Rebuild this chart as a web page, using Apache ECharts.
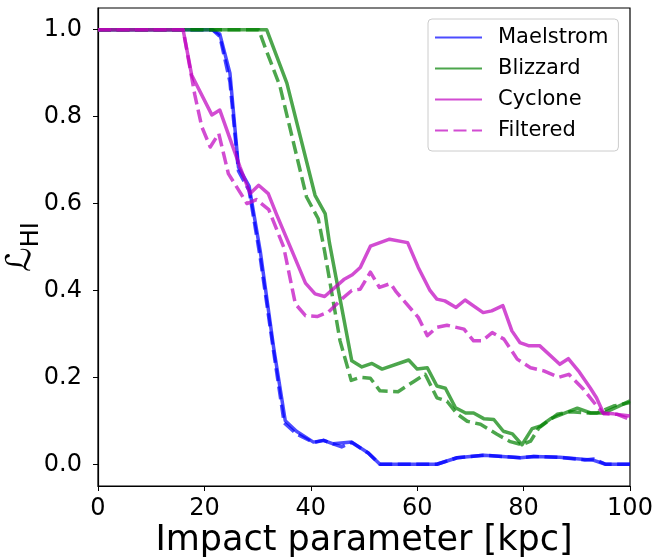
<!DOCTYPE html>
<html>
<head>
<meta charset="utf-8">
<script src="https://cdn.jsdelivr.net/npm/echarts@6/dist/echarts.min.js"></script>
<style>
  html, body { margin: 0; padding: 0; background: #fff; }
  #chart { width: 658px; height: 558px; }
</style>
</head>
<body>
<div id="chart"></div>
<script>
// Covering fraction profiles versus impact parameter (kpc)
const maelstromX = [0, 21.5, 22.9, 24.8, 26.4, 28.4, 30.5, 33.0, 35.2, 37.3, 40.5, 42.4, 44.2, 47.7, 50.8, 53.0, 63.7, 67.5, 72.5, 79.4, 81.9, 86.8, 93.2, 95.4, 100];
const maelstromY = [1.0, 1.0, 0.99, 0.90, 0.684, 0.64, 0.49, 0.27, 0.10, 0.076, 0.051, 0.055, 0.047, 0.051, 0.026, 0.0, 0.0, 0.015, 0.021, 0.015, 0.018, 0.016, 0.009, 0.0, 0.0];

const maelstromFiltX = [0, 21.5, 22.9, 24.8, 26.4, 28.4, 30.5, 33.0, 35.0, 37.3, 40.5, 42.4, 44.2, 45.8, 47.7, 50.8, 53.0, 63.7, 67.5, 72.5, 79.4, 81.9, 86.8, 91.5, 93.2, 95.4, 100];
const maelstromFiltY = [1.0, 1.0, 0.985, 0.88, 0.675, 0.63, 0.475, 0.26, 0.095, 0.07, 0.05, 0.055, 0.047, 0.04, 0.05, 0.026, 0.0, 0.0, 0.015, 0.021, 0.015, 0.018, 0.016, 0.01, 0.012, 0.0, 0.0];

const blizzardX = [0, 31.7, 35.5, 40.8, 42.7, 43.5, 47.7, 49.6, 51.5, 53.4, 58.4, 60.0, 61.9, 63.7, 65.3, 67.2, 69.1, 70.6, 72.5, 74.4, 76.2, 77.9, 79.7, 81.6, 83.2, 85.1, 88.2, 90.1, 92.6, 95.1, 97.6, 100];
const blizzardY = [1.0, 1.0, 0.877, 0.619, 0.577, 0.51, 0.238, 0.224, 0.232, 0.219, 0.24, 0.219, 0.222, 0.18, 0.175, 0.13, 0.118, 0.118, 0.105, 0.103, 0.076, 0.07, 0.045, 0.082, 0.088, 0.105, 0.12, 0.129, 0.118, 0.118, 0.132, 0.146];

const blizzardFiltX = [0, 30.2, 31.4, 34.2, 39.2, 41.4, 42.6, 45.5, 47.6, 49.3, 51.2, 53.0, 56.4, 59.3, 61.5, 63.7, 65.6, 67.5, 69.4, 71.9, 75.0, 77.5, 79.7, 81.3, 82.9, 86.3, 88.8, 92.0, 93.8, 96.9, 100];
const blizzardFiltY = [1.0, 1.0, 0.96, 0.87, 0.615, 0.565, 0.49, 0.284, 0.193, 0.2, 0.198, 0.169, 0.167, 0.19, 0.207, 0.153, 0.145, 0.116, 0.099, 0.092, 0.069, 0.052, 0.045, 0.053, 0.084, 0.115, 0.121, 0.118, 0.118, 0.134, 0.142];

const cycloneX = [0, 16.0, 17.6, 21.4, 22.9, 26.7, 28.6, 30.2, 32.0, 33.6, 36.5, 39.0, 40.8, 42.6, 46.2, 47.8, 49.3, 51.2, 54.8, 58.2, 60.2, 62.4, 63.7, 65.2, 67.3, 69.0, 72.4, 74.0, 76.1, 77.8, 79.3, 80.9, 83.0, 86.8, 88.4, 90.3, 92.5, 93.7, 95.0, 96.9, 100];
const cycloneY = [1.0, 1.0, 0.896, 0.804, 0.815, 0.684, 0.623, 0.642, 0.623, 0.574, 0.49, 0.417, 0.392, 0.386, 0.425, 0.436, 0.453, 0.502, 0.518, 0.51, 0.453, 0.40, 0.38, 0.376, 0.361, 0.378, 0.349, 0.353, 0.365, 0.307, 0.28, 0.273, 0.273, 0.23, 0.243, 0.215, 0.176, 0.153, 0.118, 0.116, 0.111];

const cycloneFiltX = [0, 16.0, 18.2, 19.5, 21.1, 22.7, 24.5, 28.0, 29.8, 32.1, 34.9, 37.1, 39.0, 41.2, 43.3, 45.8, 47.7, 49.3, 51.2, 52.9, 55.0, 56.1, 60.2, 61.9, 63.7, 65.6, 68.8, 70.6, 72.2, 74.1, 76.3, 78.8, 81.3, 83.8, 86.6, 88.5, 91.3, 93.5, 95.1, 97.6, 100];
const cycloneFiltY = [1.0, 1.0, 0.85, 0.777, 0.73, 0.761, 0.669, 0.6, 0.609, 0.586, 0.5, 0.369, 0.342, 0.34, 0.35, 0.38, 0.4, 0.403, 0.442, 0.407, 0.416, 0.396, 0.338, 0.296, 0.315, 0.32, 0.311, 0.284, 0.284, 0.303, 0.288, 0.242, 0.222, 0.215, 0.2, 0.207, 0.172, 0.138, 0.116, 0.115, 0.103];

const xTicks = [0, 20, 40, 60, 80, 100];
const yTicks = [0.0, 0.2, 0.4, 0.6, 0.8, 1.0];

const BLUE = '#0000ff', GREEN = '#008000', MAGENTA = '#bf00bf';
const FONT = 'DejaVu Sans';

function pairs(xs, ys) { return xs.map((x, i) => [x, ys[i]]); }

function line(name, xs, ys, color, dashed) {
  return {
    name: name,
    type: 'line',
    data: pairs(xs, ys),
    symbol: 'none',
    showSymbol: false,
    smooth: false,
    animation: false,
    silent: true,
    lineStyle: {
      color: color,
      width: 3.5,
      opacity: 0.7,
      type: dashed ? [13, 5.5] : 'solid',
      cap: 'butt',
      join: 'round'
    },
    // markers are hidden; this also keeps the legend glyph a plain line
    itemStyle: { color: color, opacity: 0 }
  };
}

const chart = echarts.init(document.getElementById('chart'), null, { renderer: 'canvas' });

chart.setOption({
  backgroundColor: '#fff',
  animation: false,
  textStyle: { fontFamily: FONT },
  grid: {
    left: 98, right: 28, top: 8, bottom: 72,
    containLabel: false,
    outerBoundsMode: 'none',
    show: true, borderColor: '#000', borderWidth: 1.2, backgroundColor: 'transparent'
  },
  legend: {
    orient: 'vertical',
    left: 428,
    top: 19,
    data: ['Maelstrom', 'Blizzard', 'Cyclone', 'Filtered'],
    itemWidth: 47,
    itemHeight: 14,
    itemGap: 10,
    padding: [8, 10, 10, 6],
    backgroundColor: 'rgba(255,255,255,0.8)',
    borderColor: '#cccccc',
    borderWidth: 1,
    borderRadius: 4,
    selectedMode: false,
    itemStyle: { opacity: 0 },
    textStyle: { fontFamily: FONT, fontSize: 21, color: '#000', padding: [0, 0, 0, 11] }
  },
  xAxis: {
    type: 'value',
    min: 0, max: 100, interval: 20,
    name: 'Impact parameter [kpc]',
    nameLocation: 'middle',
    nameGap: 37,
    nameMoveOverlap: false,
    nameTextStyle: { fontFamily: FONT, fontSize: 35, color: '#000' },
    axisLine: { show: true, onZero: false, lineStyle: { color: '#000', width: 1.2 } },
    axisTick: { show: true, inside: false, length: 5, lineStyle: { color: '#000', width: 1 } },
    axisLabel: {
      fontFamily: FONT, fontSize: 24, color: '#000', margin: 11,
      formatter: v => String(v)
    },
    splitLine: { show: false }
  },
  yAxis: {
    type: 'value',
    min: -0.05, max: 1.05,
    name: '{l|ℒ}{s|HI}',
    nameLocation: 'middle',
    nameGap: 60,
    nameRotate: 90,
    nameMoveOverlap: false,
    nameTextStyle: {
      color: '#000',
      rich: {
        l: { fontFamily: FONT, fontSize: 34, color: '#000', fontStyle: 'italic' },
        s: { fontFamily: FONT, fontSize: 24, color: '#000', verticalAlign: 'bottom', padding: [0, 0, -6, 0] }
      }
    },
    axisLine: { show: true, onZero: false, lineStyle: { color: '#000', width: 1.2 } },
    axisTick: { show: true, inside: false, length: 5, customValues: yTicks, lineStyle: { color: '#000', width: 1 } },
    axisLabel: {
      fontFamily: FONT, fontSize: 24, color: '#000', margin: 16,
      customValues: yTicks,
      formatter: v => Number(v).toFixed(1)
    },
    splitLine: { show: false }
  },
  series: [
    line('Maelstrom', maelstromX, maelstromY, BLUE, false),
    line('Maelstrom (filtered)', maelstromFiltX, maelstromFiltY, BLUE, true),
    line('Blizzard', blizzardX, blizzardY, GREEN, false),
    line('Blizzard (filtered)', blizzardFiltX, blizzardFiltY, GREEN, true),
    line('Cyclone', cycloneX, cycloneY, MAGENTA, false),
    line('Filtered', cycloneFiltX, cycloneFiltY, MAGENTA, true)
  ]
});
</script>
</body>
</html>
